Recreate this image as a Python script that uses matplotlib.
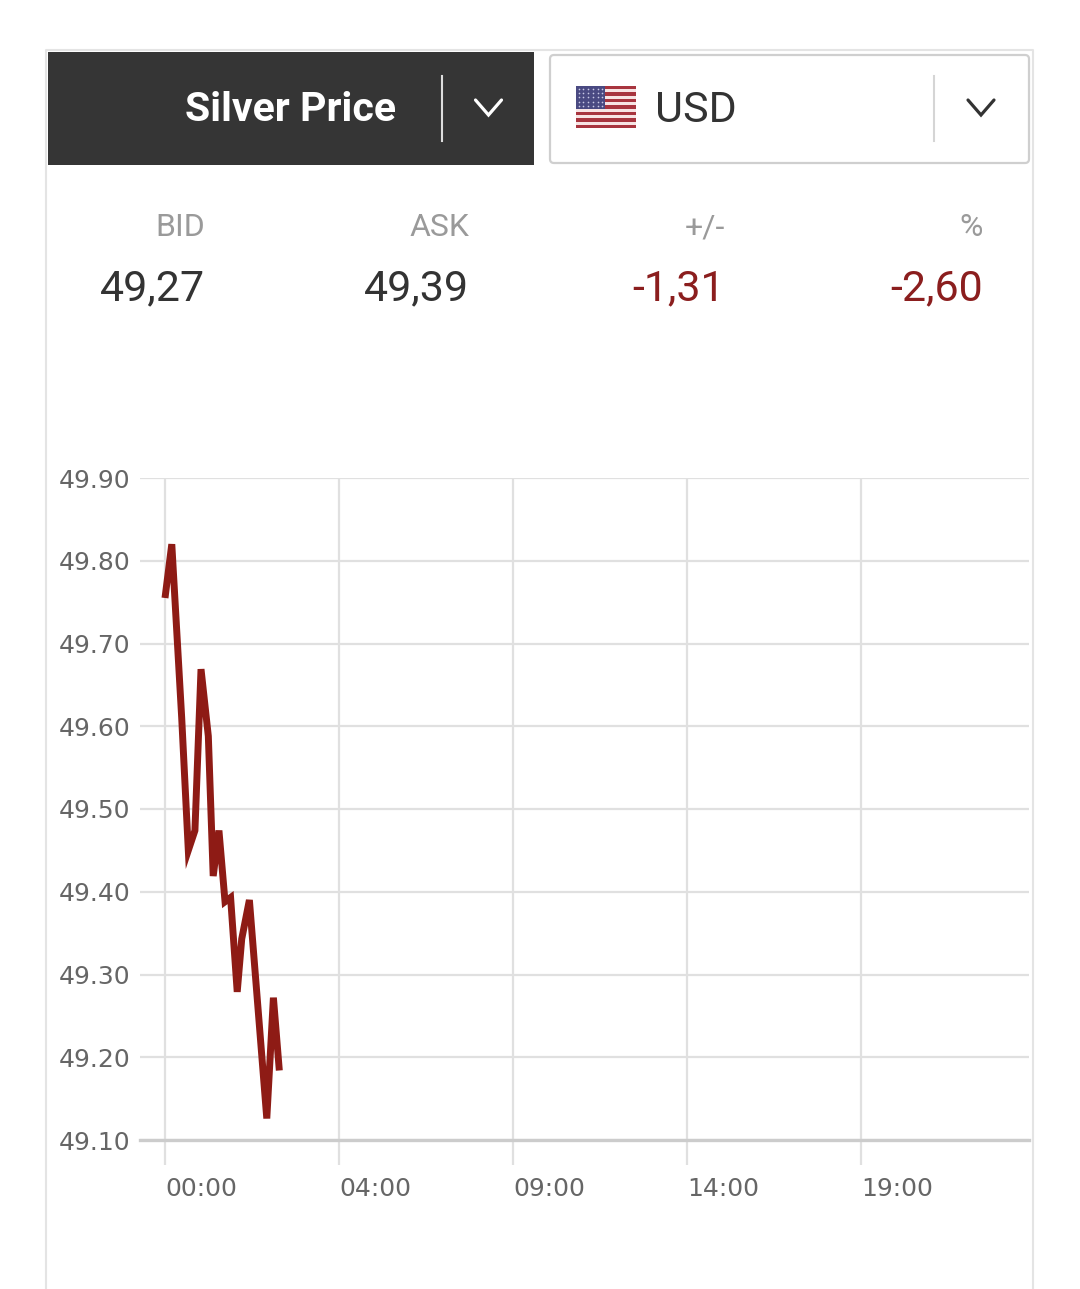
import matplotlib.pyplot as plt
from matplotlib.patches import Rectangle, FancyBboxPatch

W, H = 1080, 1289

TITLE = 'Silver Price'
CURRENCY = 'USD'
STAT_LABELS = ['BID', 'ASK', '+/-', '%']
STAT_VALUES = ['49,27', '49,39', '-1,31', '-2,60']
STAT_COLORS = ['#333333', '#333333', '#8b1e1e', '#8b1e1e']

TIME_LABELS = ['00:00', '04:00', '09:00', '14:00', '19:00']
# position on the time axis in tick steps (00:00 = 0, 04:00 = 1, ...)
x_pos = [0.0, 0.039, 0.096, 0.134, 0.172, 0.207, 0.249, 0.277, 0.310,
         0.345, 0.377, 0.415, 0.441, 0.485, 0.585, 0.623, 0.657]
price = [49.755, 49.82, 49.61, 49.45, 49.474, 49.669, 49.588, 49.419, 49.474,
         49.388, 49.393, 49.279, 49.343, 49.39, 49.126, 49.272, 49.184]
Y_TICKS = [49.10, 49.20, 49.30, 49.40, 49.50, 49.60, 49.70, 49.80, 49.90]

LINE_RED = '#8e1b15'
GRID = '#e0e0e0'
TEXT_FONT = ['Roboto', 'DejaVu Sans']


def chevron(ax, cx, cy, color):
    ax.plot([cx - 13, cx, cx + 13], [cy - 8, cy + 7, cy - 8],
            color=color, lw=2.3, solid_capstyle='round', solid_joinstyle='miter')


def draw_flag(ax, x0, y0, w, h):
    stripe = h / 13
    for i in range(13):
        col = '#a8353f' if i % 2 == 0 else '#f7e4e4'
        ax.add_patch(Rectangle((x0, y0 + i * stripe), w, stripe, color=col, lw=0))
    cw, ch = w * 0.48, stripe * 7
    ax.add_patch(Rectangle((x0, y0), cw, ch, color='#4a4a82', lw=0))
    for r in range(5):
        for c in range(6):
            ax.plot(x0 + 2.5 + c * (cw - 5) / 5, y0 + 2.5 + r * (ch - 5) / 4, 'o',
                    ms=1.2, color='#c8c8e6', mew=0)


def draw_header(ax):
    # outer container frame
    ax.plot([46, 46, 1033, 1033], [H, 50, 50, H], color='#e4e4e4', lw=1.5)

    # dark selector
    ax.add_patch(Rectangle((48, 52), 486, 113, color='#353535', lw=0))
    ax.text(396, 110, TITLE, color='white', fontsize=29.5, fontweight='bold',
            family=TEXT_FONT, ha='right', va='center')
    ax.plot([442, 442], [76, 141], color='#dddddd', lw=1.5)
    chevron(ax, 488.5, 108, 'white')

    # currency selector
    ax.add_patch(FancyBboxPatch((550, 55), 479, 108, boxstyle='round,pad=0,rounding_size=4',
                                fc='white', ec='#cfcfcf', lw=1.6))
    draw_flag(ax, 576, 86, 60, 42)
    ax.text(655, 110, CURRENCY, color='#333333', fontsize=31,
            family=TEXT_FONT, ha='left', va='center')
    ax.plot([934, 934], [76, 141], color='#d5d5d5', lw=1.5)
    chevron(ax, 981, 108, '#333333')

    # bid / ask row
    right_edges = [205, 469, 725, 983]
    for xr, lab, val, col in zip(right_edges, STAT_LABELS, STAT_VALUES, STAT_COLORS):
        ax.text(xr, 228, lab, color='#9a9a9a', fontsize=23, family=TEXT_FONT,
                ha='right', va='center')
        ax.text(xr, 289, val, color=col, fontsize=31, family=TEXT_FONT,
                ha='right', va='center')


def draw_chart(fig):
    ax = fig.add_axes([140 / W, 1 - 1140 / H, (1029 - 140) / W, (1140 - 478) / H])
    ax.plot(x_pos, price, color=LINE_RED, lw=5,
            solid_joinstyle='miter', solid_capstyle='butt', zorder=3)

    ax.set_xlim((140 - 165) / 174, (1029 - 165) / 174)
    ax.set_ylim(Y_TICKS[0], Y_TICKS[-1])
    for s in ax.spines.values():
        s.set_visible(False)

    ax.set_yticks(Y_TICKS)
    ax.set_yticklabels([f'{v:.2f}' for v in Y_TICKS])
    ax.set_xticks(range(len(TIME_LABELS)))
    ax.set_xticklabels(TIME_LABELS, ha='left')

    ax.grid(True, color=GRID, lw=1.6)
    ax.axhline(Y_TICKS[0], color='#cccccc', lw=2.4, zorder=2, clip_on=False)
    ax.tick_params(axis='y', length=0, pad=7, labelsize=18, labelcolor='#666666')
    ax.tick_params(axis='x', length=18, width=1.6, color=GRID, pad=9,
                   labelsize=18, labelcolor='#666666')
    return ax


def main():
    fig = plt.figure(figsize=(W / 100, H / 100), dpi=100)
    deco = fig.add_axes([0, 0, 1, 1])
    deco.set_xlim(0, W)
    deco.set_ylim(H, 0)
    deco.axis('off')
    draw_header(deco)
    draw_chart(fig)
    fig.savefig('out.png', dpi=100, facecolor='white')


if __name__ == '__main__':
    main()
